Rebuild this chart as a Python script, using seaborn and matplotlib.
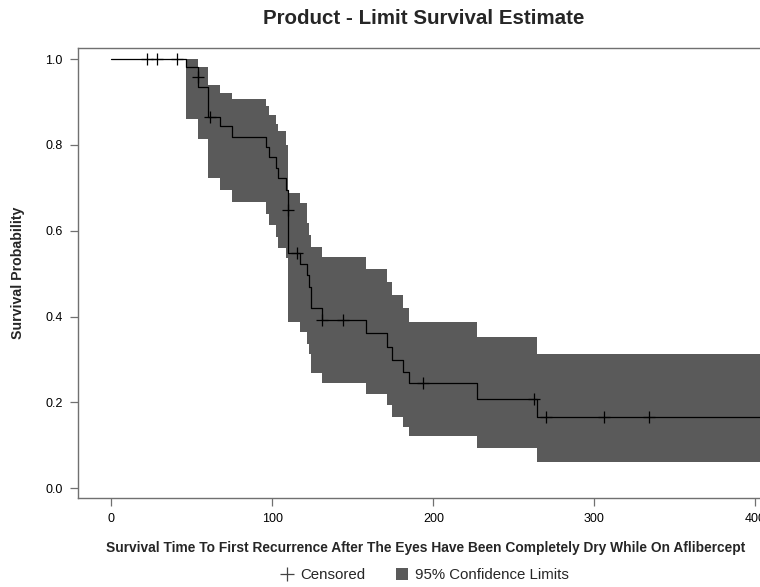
import numpy as np
import pandas as pd
import matplotlib
matplotlib.use('Agg')
import matplotlib.pyplot as plt
import seaborn as sns
from matplotlib.lines import Line2D
from matplotlib.patches import Patch
from matplotlib.ticker import FormatStrFormatter

sns.set_style('white')
plt.rcParams['font.family'] = ['Liberation Sans', 'DejaVu Sans']

# step times (days) and product-limit estimate after each step
times = [0, 46.3, 53.5, 60.1, 67.4, 74.7, 95.7, 98.1, 102.2, 103.7, 108.7, 109.9,
         116.8, 121.6, 122.9, 123.9, 130.6, 158.1, 171.3, 174.0, 180.9, 185.1,
         227.2, 264.5, 415]
survival = [1.0, 0.981, 0.936, 0.866, 0.844, 0.818, 0.796, 0.772, 0.746, 0.722, 0.695, 0.548,
            0.522, 0.496, 0.470, 0.419, 0.392, 0.361, 0.329, 0.299, 0.271, 0.244,
            0.208, 0.165, 0.165]
# 95% confidence limits (no band before the first event)
lower = [np.nan, 0.861, 0.813, 0.723, 0.694, 0.668, 0.638, 0.613, 0.585, 0.560, 0.536, 0.388,
         0.364, 0.337, 0.313, 0.268, 0.244, 0.219, 0.194, 0.166, 0.143, 0.121,
         0.094, 0.062, 0.062]
upper = [np.nan, 1.0, 0.983, 0.940, 0.922, 0.908, 0.891, 0.869, 0.850, 0.833, 0.800, 0.687,
         0.664, 0.619, 0.590, 0.563, 0.540, 0.512, 0.481, 0.450, 0.419, 0.388,
         0.353, 0.312, 0.312]

# censored observations
censor_t = [21.9, 28.4, 40.9, 53.5, 61.2, 109.9, 115.2, 130.6, 144.1, 193.7, 262.4, 269.9, 305.9, 333.9]
censor_s = [1.0, 1.0, 1.0, 0.958, 0.866, 0.648, 0.548, 0.392, 0.392, 0.244, 0.208, 0.165, 0.165, 0.165]

km = pd.DataFrame({'time': times, 'surv': survival, 'lower': lower, 'upper': upper})
cens = pd.DataFrame({'time': censor_t, 'surv': censor_s})

band_col = '#5a5a5a'
frame_col = '#707070'

fig = plt.figure(figsize=(7.6, 5.87), dpi=100)
ax = fig.add_axes([0.1026, 0.1516, 0.9105, 0.7658])

ax.fill_between(km['time'], km['lower'], km['upper'], step='post',
                color=band_col, linewidth=0, zorder=1)
sns.lineplot(data=km, x='time', y='surv', drawstyle='steps-post', color='black',
             linewidth=0.9, estimator=None, ax=ax, zorder=2)
sns.scatterplot(data=cens, x='time', y='surv', marker='+', color='black', s=70,
                linewidth=0.9, ax=ax, zorder=3)

ax.set_xlim(-20.8, 409)
ax.set_ylim(-0.023, 1.025)
ax.set_xticks([0, 100, 200, 300, 400])
ax.set_yticks([0.0, 0.2, 0.4, 0.6, 0.8, 1.0])
ax.yaxis.set_major_formatter(FormatStrFormatter('%.1f'))
ax.tick_params(direction='out', length=6, width=0.9, color=frame_col,
               labelsize=9, pad=5, labelcolor='black')
ax.tick_params(axis='x', bottom=True)
ax.tick_params(axis='y', left=True)
for sp in ax.spines.values():
    sp.set_color(frame_col)
    sp.set_linewidth(1.0)
ax.set_xlabel('')
ax.set_ylabel('')

fig.text(424 / 760, 1 - 18 / 587, 'Product - Limit Survival Estimate',
         ha='center', va='center', fontsize=14.8, fontweight='bold')
fig.text(426 / 760, 1 - 548 / 587,
         'Survival Time To First Recurrence After The Eyes Have Been Completely Dry While On Aflibercept',
         ha='center', va='center', fontsize=9.9, fontweight='bold')
fig.text(18 / 760, 1 - 273 / 587, 'Survival Probability', rotation=90,
         ha='center', va='center', fontsize=10.2, fontweight='bold')

handles = [Line2D([], [], marker='+', linestyle='none', color='#444444', markersize=10, markeredgewidth=0.9),
           Patch(facecolor=band_col, edgecolor='none')]
fig.legend(handles, ['Censored', '95% Confidence Limits'], loc='center',
           bbox_to_anchor=(425 / 760, 1 - 575 / 587), ncol=2, frameon=False,
           fontsize=10.8, handlelength=0.8, handleheight=0.8, columnspacing=2.0,
           handletextpad=0.5)

fig.savefig('out.png', dpi=100)
